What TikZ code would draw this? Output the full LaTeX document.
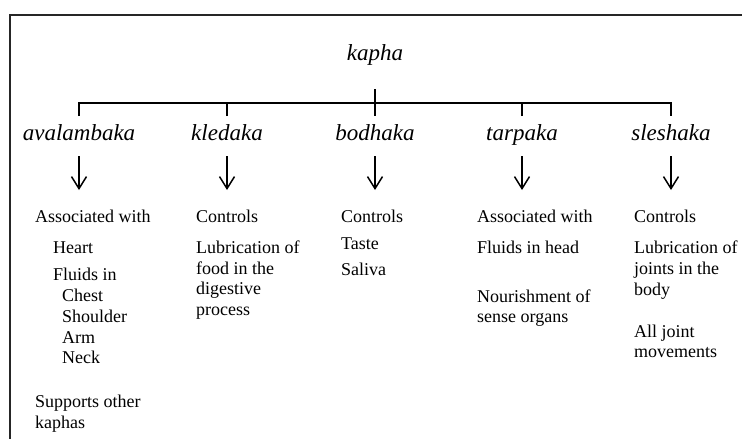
\documentclass[tikz,border=0pt]{standalone}
\usepackage{fontspec}
\setmainfont{Liberation Serif}
\usetikzlibrary{arrows.meta}
\begin{document}
\begin{tikzpicture}[x=1pt,y=-1pt,
  txt/.style={anchor=base west,inner sep=0pt,font=\fontsize{18}{21}\selectfont},
  head/.style={anchor=base,inner sep=0pt,font=\fontsize{23}{27}\selectfont\itshape},
  tree/.style={line width=1.6pt},
  arr/.style={line width=1.5pt,-{Straight Barb[length=12pt,width=15pt,line width=1.5pt]}},
  frame/.style={line width=1.5pt,draw=black!85}]
\useasboundingbox (0,0) rectangle (742,439);
% frame
\coordinate (ftl) at (10,15);
\coordinate (ftr) at (742,15);
\coordinate (fbl) at (10,439);
\draw[frame] (ftr) -- (ftl) -- (fbl);
% root
\node[head] (kapha) at (375,60) {kapha};
\coordinate (stemtop) at (375,89);
\coordinate (bar1) at (79,103);
\coordinate (bar5) at (671,103);
% children
\foreach \n/\x/\t in {a/79/avalambaka,b/227/kledaka,c/375/bodhaka,d/522/tarpaka,e/671/sleshaka}{
  \node[head] (h\n) at (\x,140) {\t};
  \coordinate (d\n) at (\x,116);
  \coordinate (as\n) at (\x,156);
  \coordinate (ae\n) at (\x,190);
}
\draw[tree] (stemtop) -- (dc);
\draw[tree] (da) |- (bar5) -- (de);
\draw[tree] (db) -- (db |- bar1);
\draw[tree] (dd) -- (dd |- bar1);
\foreach \n in {a,b,c,d,e}{\draw[arr] (as\n) -- (ae\n);}
% column 1
\node[txt] (a1) at (35,222) {Associated with};
\node[txt] (a2) at (53,253) {Heart};
\node[txt] (a3) at (53,280) {Fluids in};
\node[txt] (a4) at (62,301) {Chest};
\node[txt] (a5) at (62,322) {Shoulder};
\node[txt] (a6) at (62,343) {Arm};
\node[txt] (a7) at (62,363) {Neck};
\node[txt] (a8) at (35,407) {Supports other};
\node[txt] (a9) at (35,428) {kaphas};
% column 2
\node[txt] (b1) at (196,222) {Controls};
\node[txt] (b2) at (196,253) {Lubrication of};
\node[txt] (b3) at (196,274) {food in the};
\node[txt] (b4) at (196,294) {digestive};
\node[txt] (b5) at (196,315) {process};
% column 3
\node[txt] (c1) at (341,222) {Controls};
\node[txt] (c2) at (341,249) {Taste};
\node[txt] (c3) at (341,275) {Saliva};
% column 4
\node[txt] (d1) at (477,222) {Associated with};
\node[txt] (d2) at (477,253) {Fluids in head};
\node[txt] (d3) at (477,302) {Nourishment of};
\node[txt] (d4) at (477,322) {sense organs};
% column 5
\node[txt] (e1) at (634,222) {Controls};
\node[txt] (e2) at (634,253) {Lubrication of};
\node[txt] (e3) at (634,274) {joints in the};
\node[txt] (e4) at (634,295) {body};
\node[txt] (e5) at (634,337) {All joint};
\node[txt] (e6) at (634,357) {movements};
\end{tikzpicture}
\end{document}
